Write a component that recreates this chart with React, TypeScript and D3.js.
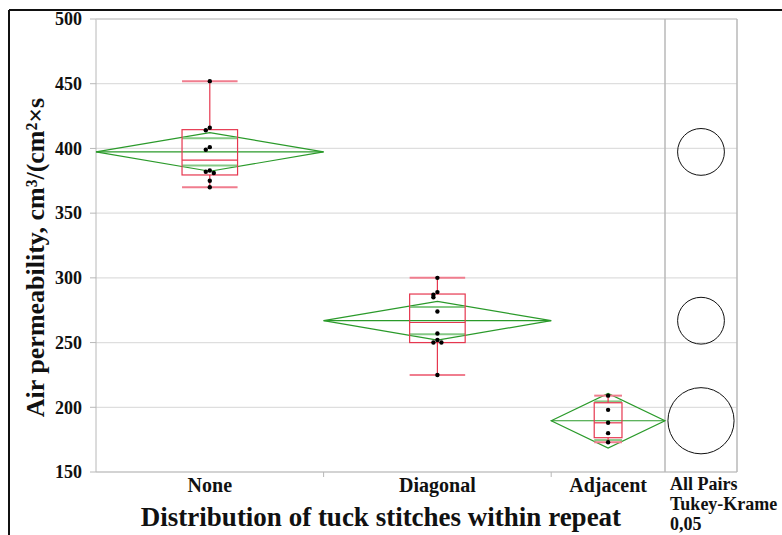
import React from "react";
import * as d3 from "d3";

// Air permeability measurements, cm³/(cm²×s), per tuck-stitch layout
const groups = ["None", "Diagonal", "Adjacent"];
const noneValues = [452, 416, 414, 401, 399, 383, 382, 381, 375, 370];
const diagonalValues = [300, 289, 287, 285, 274, 257, 252, 250, 250, 225];
const adjacentValues = [209, 198, 188, 180, 173];
const yTicks = [150, 200, 250, 300, 350, 400, 450, 500];
const compareLabel = ["All Pairs", "Tukey-Krame", "0,05"];

// critical values for alpha = 0.05, error df = 22
const tCrit = 2.074;
const qStar = 2.51;

const W = 782;
const H = 535;
const plot = { left: 96, right: 665, top: 19, bottom: 472 };
const panel = { left: 665, right: 737 };

const SERIF = "'Liberation Serif', 'Times New Roman', serif";
const RED = "#e6374f";
const RED_LIGHT = "#f07d8e";
const GREEN = "#2a9a2a";
const GREEN_LIGHT = "#86c986";
const GRID = "#dedede";
const AXIS = "#b8b8b8";

// quantile using the (n+1)p rule
function quantile(sorted: number[], p: number) {
  const n = sorted.length;
  const pos = (n + 1) * p;
  const lo = Math.floor(pos);
  const frac = pos - lo;
  if (lo < 1) return sorted[0];
  if (lo >= n) return sorted[n - 1];
  return sorted[lo - 1] + frac * (sorted[lo] - sorted[lo - 1]);
}

export default function App() {
  const series = [noneValues, diagonalValues, adjacentValues];
  const counts = series.map((s) => s.length);
  const total = d3.sum(counts);

  const y = d3.scaleLinear().domain([150, 500]).range([plot.bottom, plot.top]);
  // group widths are proportional to sample size
  const xUnit = d3.scaleLinear().domain([0, total]).range([plot.left, plot.right]);
  const starts = counts.map((_, i) => d3.sum(counts.slice(0, i)));

  const means = series.map((s) => d3.mean(s) as number);
  const ssErr = d3.sum(series.map((s, i) => d3.sum(s.map((v) => (v - means[i]) ** 2))));
  const dfErr = total - series.length;
  const mse = ssErr / dfErr;

  const stats = series.map((s, i) => {
    const sorted = [...s].sort((a, b) => a - b);
    const x0 = xUnit(starts[i]);
    const x1 = xUnit(starts[i] + counts[i]);
    const cx = (x0 + x1) / 2;
    const se = Math.sqrt(mse / counts[i]);
    return {
      name: groups[i],
      values: s,
      x0,
      x1,
      cx,
      mean: means[i],
      ci: tCrit * se,
      radius: qStar * se,
      q1: quantile(sorted, 0.25),
      med: quantile(sorted, 0.5),
      q3: quantile(sorted, 0.75),
      min: sorted[0],
      max: sorted[sorted.length - 1],
    };
  });

  const panelCx = (panel.left + panel.right) / 2;
  const pxPerUnit = y(0) - y(1);

  return (
    <svg
      width={W}
      height={H}
      style={{ position: "absolute", left: 0, top: 0, background: "#fff" }}
      fontFamily={SERIF}
    >
      {/* outer frame */}
      <line x1={9} y1={10} x2={W} y2={10} stroke="#111" strokeWidth={2} />
      <line x1={9} y1={10} x2={9} y2={H} stroke="#111" strokeWidth={2} />

      {/* grid lines in plot and comparison panel */}
      {yTicks.map((t) => (
        <line
          key={"g" + t}
          x1={plot.left}
          x2={panel.right}
          y1={y(t)}
          y2={y(t)}
          stroke={GRID}
          strokeWidth={1.2}
        />
      ))}

      {/* axes / panel frames */}
      <line x1={plot.left} x2={plot.left} y1={plot.top} y2={plot.bottom} stroke={AXIS} />
      <line x1={plot.left} x2={panel.right} y1={plot.bottom} y2={plot.bottom} stroke={AXIS} />
      <line x1={plot.left} x2={panel.right} y1={plot.top} y2={plot.top} stroke="#cfcfcf" strokeWidth={1.5} />
      <line x1={panel.left} x2={panel.left} y1={plot.top} y2={plot.bottom} stroke={AXIS} strokeWidth={1.5} />
      <line x1={panel.right} x2={panel.right} y1={plot.top} y2={plot.bottom} stroke={AXIS} strokeWidth={1.5} />

      {/* y ticks and labels */}
      {yTicks.map((t) => (
        <g key={"t" + t}>
          <line x1={plot.left - 6} x2={plot.left} y1={y(t)} y2={y(t)} stroke={AXIS} />
          <text
            x={82}
            y={y(t)}
            dy="0.35em"
            textAnchor="end"
            fontSize={18}
            fontWeight="bold"
            fill="#111"
          >
            {t}
          </text>
        </g>
      ))}

      {/* x ticks at group boundaries */}
      {stats.slice(1).map((s) => (
        <line key={"xt" + s.name} x1={s.x0} x2={s.x0} y1={plot.bottom} y2={plot.bottom + 5} stroke={AXIS} />
      ))}

      {stats.map((s) => {
        const boxHalf = (s.x1 - s.x0) * 0.122;
        const ym = y(s.mean);
        const overlap = s.ci / Math.SQRT2;
        const diamond = [
          [s.x0, ym],
          [s.cx, y(s.mean + s.ci)],
          [s.x1, ym],
          [s.cx, y(s.mean - s.ci)],
        ];
        return (
          <g key={s.name}>
            {/* means diamond */}
            <polygon
              points={diamond.map((p) => p.join(",")).join(" ")}
              fill="none"
              stroke={GREEN}
              strokeWidth={1.2}
            />
            <line x1={s.x0} x2={s.x1} y1={ym} y2={ym} stroke={GREEN} strokeWidth={1.2} />
            {[s.mean + overlap, s.mean - overlap].map((v, k) => (
              <line
                key={k}
                x1={s.cx - boxHalf}
                x2={s.cx + boxHalf}
                y1={y(v)}
                y2={y(v)}
                stroke={GREEN_LIGHT}
                strokeWidth={2}
              />
            ))}

            {/* box plot */}
            <line x1={s.cx} x2={s.cx} y1={y(s.max)} y2={y(s.q3)} stroke={RED} strokeWidth={1.2} />
            <line x1={s.cx} x2={s.cx} y1={y(s.q1)} y2={y(s.min)} stroke={RED} strokeWidth={1.2} />
            <line x1={s.cx - boxHalf} x2={s.cx + boxHalf} y1={y(s.max)} y2={y(s.max)} stroke={RED_LIGHT} strokeWidth={2} />
            <line x1={s.cx - boxHalf} x2={s.cx + boxHalf} y1={y(s.min)} y2={y(s.min)} stroke={RED_LIGHT} strokeWidth={2} />
            <rect
              x={s.cx - boxHalf}
              y={y(s.q3)}
              width={boxHalf * 2}
              height={y(s.q1) - y(s.q3)}
              fill="none"
              stroke={RED}
              strokeWidth={1.2}
            />
            <line x1={s.cx - boxHalf} x2={s.cx + boxHalf} y1={y(s.med)} y2={y(s.med)} stroke={RED} strokeWidth={1.2} />

            {/* observations, nudged sideways when they overlap */}
            {s.values.map((v, i) => {
              const near = s.values.slice(0, i).filter((u) => Math.abs(u - v) * pxPerUnit < 4).length;
              const dx = near === 0 ? 0 : (near % 2 === 1 ? -1 : 1) * Math.ceil(near / 2) * 4;
              return <circle key={i} cx={s.cx + dx} cy={y(v)} r={2.2} fill="#000" />;
            })}

            {/* group label */}
            <text x={s.cx} y={492} textAnchor="middle" fontSize={20} fontWeight="bold" fill="#111">
              {s.name}
            </text>

            {/* comparison circle */}
            <circle cx={panelCx} cy={ym} r={s.radius * pxPerUnit} fill="none" stroke="#111" strokeWidth={1} />
          </g>
        );
      })}

      {/* axis titles */}
      <text
        x={381}
        y={526}
        textAnchor="middle"
        fontSize={27}
        fontWeight="bold"
        fill="#111"
      >
        Distribution of tuck stitches within repeat
      </text>
      <text
        transform={`translate(44, ${(plot.top + plot.bottom) / 2 + 12}) rotate(-90)`}
        textAnchor="middle"
        fontSize={26}
        fontWeight="bold"
        fill="#111"
      >
        Air permeability, cm³/(cm²×s
      </text>

      {/* comparison panel caption */}
      {compareLabel.map((t, i) => (
        <text key={t} x={670} y={490 + i * 20} fontSize={18} fontWeight="bold" fill="#111">
          {t}
        </text>
      ))}
    </svg>
  );
}
